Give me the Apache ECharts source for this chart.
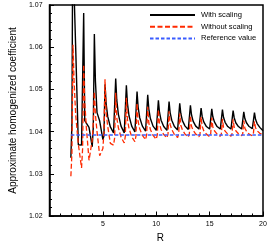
<!DOCTYPE html>
<html>
<head>
<meta charset="utf-8">
<script src="https://cdn.jsdelivr.net/npm/echarts@6/dist/echarts.min.js"></script>
<style>html,body{margin:0;padding:0;background:#fff;}#c{width:278px;height:250px;}</style>
</head>
<body>
<div id="c"></div>
<script>
var R = [
2.0,2.1,2.2,2.3,2.45,2.7,
3.0,3.1,3.2,3.3,3.45,3.7,
4.0,4.1,4.2,4.3,4.45,4.7,
5.0,5.1,5.2,5.3,5.45,5.7,
6.0,6.1,6.2,6.3,6.45,6.7,
7.0,7.1,7.2,7.3,7.45,7.7,
8.0,8.1,8.2,8.3,8.45,8.7,
9.0,9.1,9.2,9.3,9.45,9.7,
10.0,10.1,10.2,10.3,10.45,10.7,
11.0,11.1,11.2,11.3,11.45,11.7,
12.0,12.1,12.2,12.3,12.45,12.7,
13.0,13.1,13.2,13.3,13.45,13.7,
14.0,14.1,14.2,14.3,14.45,14.7,
15.0,15.1,15.2,15.3,15.45,15.7,
16.0,16.1,16.2,16.3,16.45,16.7,
17.0,17.1,17.2,17.3,17.45,17.7,
18.0,18.1,18.2,18.3,18.45,18.7,
19.0,19.1,19.2,19.3,19.45,19.7,
20.0];

var withScaling = [
1.0338,1.0420,1.1000,1.0730,1.0600,1.0369,
1.0368,1.0372,1.0681,1.0426,1.0426,1.0410,
1.0364,1.0410,1.0631,1.0520,1.0445,1.0425,
1.0381,1.0390,1.0512,1.0467,1.0436,1.0411,
1.0397,1.0393,1.0526,1.0475,1.0441,1.0413,
1.0397,1.0393,1.0510,1.0467,1.0437,1.0413,
1.0399,1.0396,1.0495,1.0458,1.0433,1.0413,
1.0401,1.0398,1.0487,1.0454,1.0431,1.0413,
1.0403,1.0400,1.0474,1.0446,1.0427,1.0412,
1.0403,1.0401,1.0471,1.0445,1.0427,1.0412,
1.0404,1.0402,1.0467,1.0443,1.0426,1.0413,
1.0405,1.0403,1.0462,1.0440,1.0425,1.0413,
1.0406,1.0404,1.0456,1.0436,1.0423,1.0412,
1.0406,1.0404,1.0454,1.0435,1.0423,1.0412,
1.0406,1.0405,1.0452,1.0434,1.0422,1.0412,
1.0406,1.0405,1.0450,1.0433,1.0421,1.0412,
1.0406,1.0405,1.0447,1.0431,1.0421,1.0412,
1.0407,1.0406,1.0445,1.0429,1.0419,1.0410,
1.0402];

var withoutScaling = [
1.0294,1.0350,1.0606,1.0520,1.0440,1.0370,
1.0314,1.0360,1.0559,1.0470,1.0410,1.0332,
1.0380,1.0420,1.0494,1.0440,1.0400,1.0343,
1.0360,1.0400,1.0524,1.0445,1.0413,1.0372,
1.0368,1.0385,1.0492,1.0433,1.0409,1.0387,
1.0373,1.0389,1.0480,1.0428,1.0407,1.0388,
1.0376,1.0390,1.0467,1.0424,1.0407,1.0391,
1.0381,1.0393,1.0459,1.0421,1.0405,1.0391,
1.0382,1.0393,1.0452,1.0419,1.0405,1.0393,
1.0385,1.0394,1.0448,1.0417,1.0405,1.0393,
1.0386,1.0395,1.0443,1.0415,1.0404,1.0394,
1.0387,1.0395,1.0438,1.0413,1.0403,1.0394,
1.0388,1.0395,1.0435,1.0412,1.0402,1.0394,
1.0388,1.0395,1.0433,1.0411,1.0402,1.0394,
1.0389,1.0395,1.0430,1.0410,1.0401,1.0394,
1.0389,1.0395,1.0429,1.0410,1.0402,1.0395,
1.0390,1.0395,1.0426,1.0408,1.0401,1.0394,
1.0390,1.0395,1.0424,1.0409,1.0402,1.0396,
1.0393];

var refR = [2, 20];
var refValue = [1.0392, 1.0392];

var seriesNames = ['With scaling', 'Without scaling', 'Reference value'];
var xTicks = [5, 10, 15, 20];
var yTicks = ['1.02','1.03','1.04','1.05','1.06','1.07'];

function pairs(xs, ys) { return xs.map(function (x, i) { return [x, ys[i]]; }); }

var FONT = 'Liberation Sans, Arial, Helvetica, sans-serif';
var chart = echarts.init(document.getElementById('c'), null, {renderer: 'canvas'});
chart.setOption({
  animation: false,
  backgroundColor: '#fff',
  grid: {left: 44, right: 15, top: 5, bottom: 34, show: true, borderColor: '#000', borderWidth: 1.5, backgroundColor: 'transparent'},
  legend: {
    orient: 'vertical', left: 149, top: 11, padding: 0,
    itemWidth: 45, itemHeight: 8, itemGap: 3.7,
    itemStyle: {opacity: 0},
    textStyle: {fontFamily: FONT, fontSize: 7.6, color: '#000', padding: [0, 0, 0, 1]},
    data: seriesNames
  },
  xAxis: {
    type: 'value', min: 0, max: 20, interval: 5,
    name: 'R', nameLocation: 'middle', nameGap: 17,
    nameTextStyle: {fontFamily: FONT, fontSize: 10, color: '#000', padding: [0, 0, 0, 8]},
    axisLine: {lineStyle: {color: '#000', width: 1.5}},
    axisTick: {inside: true, length: 4.5, lineStyle: {color: '#000', width: 1}},
    minorTick: {show: true, splitNumber: 5, length: 2.5, lineStyle: {color: '#000', width: 1}},
    splitLine: {show: false},
    axisLabel: {fontFamily: FONT, fontSize: 7, color: '#000', margin: 5,
      formatter: function (v) { return xTicks.indexOf(v) >= 0 ? String(v) : ''; }}
  },
  yAxis: {
    type: 'value', min: 1.02, max: 1.07, interval: 0.01,
    name: 'Approximate homogenized coefficient', nameLocation: 'middle', nameGap: 19,
    nameTextStyle: {fontFamily: FONT, fontSize: 10, color: '#000'},
    axisLine: {show: true, lineStyle: {color: '#000', width: 1.5}},
    axisTick: {show: true, inside: true, length: 4.5, lineStyle: {color: '#000', width: 1}},
    minorTick: {show: true, splitNumber: 5, length: 2.5, lineStyle: {color: '#000', width: 1}},
    splitLine: {show: false},
    axisLabel: {fontFamily: FONT, fontSize: 7, color: '#000', margin: 7,
      formatter: function (v) { var s = v.toFixed(2); return yTicks.indexOf(s) >= 0 ? s : ''; }}
  },
  series: [
    {name: seriesNames[0], type: 'line', symbol: 'none', clip: true, z: 2,
     data: pairs(R, withScaling), lineStyle: {color: '#000', width: 1.4}, itemStyle: {color: '#000'}},
    {name: seriesNames[1], type: 'line', symbol: 'none', clip: true, z: 3,
     data: pairs(R, withoutScaling), lineStyle: {color: '#ff2a00', width: 1.3, type: [5, 2.5]}, itemStyle: {color: '#ff2a00'}},
    {name: seriesNames[2], type: 'line', symbol: 'none', clip: true, z: 4,
     data: pairs(refR, refValue), lineStyle: {color: '#3a5cff', width: 1.3, type: [3.5, 2]}, itemStyle: {color: '#3a5cff'}}
  ]
});
</script>
</body>
</html>
